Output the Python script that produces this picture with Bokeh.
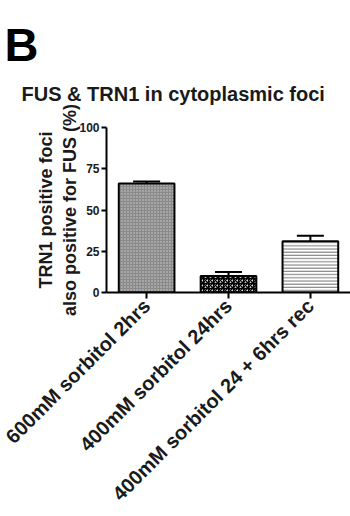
import math
from bokeh.plotting import figure
from bokeh.models import Range1d, FixedTicker, Title, ColumnDataSource
from bokeh.embed import file_html
from bokeh.resources import INLINE

categories = ["600mM sorbitol 2hrs", "400mM sorbitol 24hrs", "400mM sorbitol 24 + 6hrs rec"]
means = [66, 10, 31]
sems = [1.3, 2.5, 3.4]
y_ticks = [0, 25, 50, 75, 100]

FONT = "Liberation Sans"
W, H = 350, 516
LEFT, TOP, BOTTOM, RIGHT = 106, 127, 224, 0
XR = (-0.49, 2.49)
YR = (0, 100)

xs = list(range(len(categories)))
patterns = ["dot", "criss_cross", "horizontal_line"]
fills = ["#8a8a8a", "white", "white"]
hcolors = ["#d0d0d0", "black", "#8a8a8a"]
hscales = [3.0, 5.0, 3.2]
hweights = [1.0, 1.3, 1.2]

p = figure(width=W, height=H, output_backend="svg", toolbar_location=None,
           x_range=Range1d(*XR), y_range=Range1d(*YR),
           min_border_left=LEFT, min_border_top=TOP,
           min_border_bottom=BOTTOM, min_border_right=RIGHT)
p.outline_line_color = None
p.xgrid.visible = False
p.ygrid.visible = False
p.background_fill_color = "white"
p.border_fill_color = "white"

for i in xs:
    p.vbar(x=[xs[i]], top=[means[i]], bottom=0, width=0.68,
           fill_color=fills[i], line_color="black", line_width=2,
           hatch_pattern=patterns[i], hatch_color=hcolors[i],
           hatch_scale=hscales[i], hatch_weight=hweights[i])

upper = [m + s for m, s in zip(means, sems)]
src = ColumnDataSource(dict(x=xs, y0=means, y1=upper,
                            xl=[x - 0.165 for x in xs], xr=[x + 0.165 for x in xs]))
p.segment(x0="x", y0="y0", x1="x", y1="y1", source=src, line_color="black", line_width=2)
p.segment(x0="xl", y0="y1", x1="xr", y1="y1", source=src, line_color="black", line_width=2)

# axes
xa = p.xaxis[0]
xa.ticker = FixedTicker(ticks=xs)
xa.major_label_overrides = {i: c for i, c in zip(xs, categories)}
xa.major_label_orientation = math.pi / 4
xa.major_label_text_font = FONT
xa.major_label_text_font_style = "bold"
xa.major_label_text_font_size = "20px"
xa.major_label_text_color = "#1a1a1a"
xa.axis_line_width = 2
xa.major_tick_line_width = 2
xa.major_tick_out = 6
xa.major_tick_in = 0
xa.minor_tick_line_color = None
xa.major_label_standoff = 4

ya = p.yaxis[0]
ya.ticker = FixedTicker(ticks=y_ticks)
ya.major_label_text_font = FONT
ya.major_label_text_font_style = "bold"
ya.major_label_text_font_size = "12px"
ya.major_label_text_color = "#1a1a1a"
ya.axis_line_width = 2
ya.major_tick_line_width = 2
ya.major_tick_out = 5
ya.major_tick_in = 0
ya.minor_tick_line_color = None
ya.major_label_standoff = 2
ya.axis_label = "TRN1 positive foci\nalso positive for FUS (%)"
ya.axis_label_text_font = FONT
ya.axis_label_text_font_style = "bold"
ya.axis_label_text_font_size = "18px"
ya.axis_label_text_color = "#1a1a1a"
ya.axis_label_standoff = -4

title = Title(text="FUS & TRN1 in cytoplasmic foci\n", align="left", offset=-85,
              text_font=FONT, text_font_style="bold", text_font_size="20px",
              text_line_height=0.8, text_color="#1a1a1a")
panel = Title(text="B", align="left", offset=-102,
              text_font=FONT, text_font_style="bold", text_font_size="47px",
              text_color="black")
p.add_layout(title, "above")
p.add_layout(panel, "above")

open("out.html", "w").write(file_html(p, INLINE))
